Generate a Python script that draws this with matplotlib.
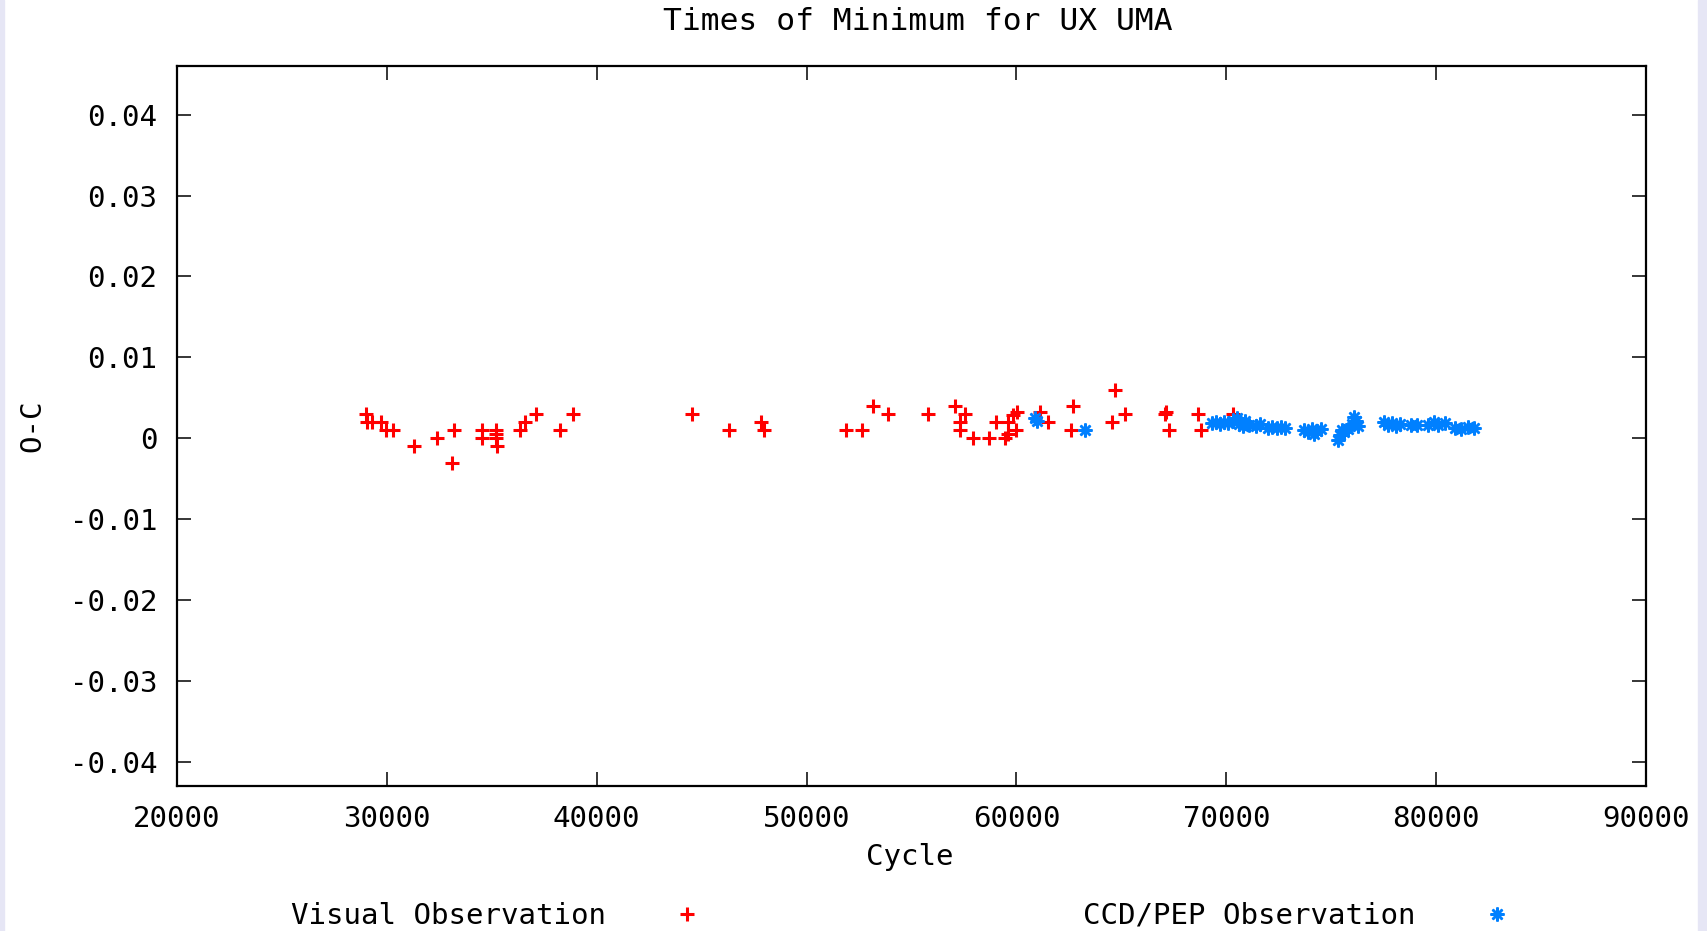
import matplotlib
matplotlib.use("Agg")
import matplotlib.pyplot as plt
from matplotlib.patches import Rectangle

# 目视观测 (Visual) 极小时刻 O-C
visual_cycle = [29000, 29050, 29300, 29700, 29950, 30300,
                31300, 32400, 33100, 33200,
                34550, 34550, 35200, 35200, 35250, 35200,
                36350, 36600, 37100, 38250, 38850,
                44550, 46300, 47850, 47950,
                51900, 52650, 53150, 53900, 55800,
                57050, 57550, 57300, 57300, 57950, 58700,
                59050, 59450, 59600, 59600, 60000, 60050, 59850,
                61100, 61500, 62700, 62600, 64700, 64550, 65150,
                67100, 67150, 67250, 68650, 68800, 70300]
visual_oc = [0.003, 0.002, 0.002, 0.002, 0.001, 0.001,
             -0.001, 0.0, -0.003, 0.001,
             0.001, 0.0, 0.001, 0.0, -0.001, 0.0005,
             0.001, 0.002, 0.003, 0.001, 0.003,
             0.003, 0.001, 0.002, 0.001,
             0.001, 0.001, 0.004, 0.003, 0.003,
             0.004, 0.003, 0.002, 0.001, 0.0, 0.0,
             0.002, 0.0, 0.0006, 0.002, 0.001, 0.0033, 0.0029,
             0.0033, 0.002, 0.004, 0.001, 0.006, 0.002, 0.003,
             0.003, 0.0033, 0.001, 0.003, 0.001, 0.003]

# CCD/PEP 观测
ccd_cycle = [60900, 61000, 63250,
             69300, 69500, 69700, 69900, 70100,
             70300, 70500, 70600, 70800, 70900,
             71100, 71400, 71600,
             72000, 72200, 72400, 72600, 72800,
             73700, 73900, 74100, 74300, 74500, 74200,
             75300, 75400, 75500, 75600, 75800, 76000, 76100, 76200, 76300,
             77500, 77700, 77900, 78100, 78300,
             78800, 79100,
             79600, 79900, 80100, 80400,
             80900, 81200, 81500, 81800]
ccd_oc = [0.0025, 0.0021, 0.001,
          0.0019, 0.0020, 0.0018, 0.0020, 0.0019,
          0.0022, 0.0025, 0.0018, 0.0015, 0.0021,
          0.0017, 0.0015, 0.0018,
          0.0013, 0.0014, 0.0013, 0.0014, 0.0013,
          0.0010, 0.0008, 0.0012, 0.0009, 0.0011, 0.0005,
          -0.0002, 0.0004, 0.0010, 0.0008, 0.0012, 0.0018, 0.0026, 0.0022, 0.0015,
          0.0020, 0.0016, 0.0019, 0.0015, 0.0018,
          0.0016, 0.0017,
          0.0017, 0.0020, 0.0017, 0.0019,
          0.0013, 0.0011, 0.0014, 0.0013]

xticks = [20000, 30000, 40000, 50000, 60000, 70000, 80000, 90000]
yticks = [-0.04, -0.03, -0.02, -0.01, 0, 0.01, 0.02, 0.03, 0.04]
ytick_labels = ["-0.04", "-0.03", "-0.02", "-0.01", "0",
                "0.01", "0.02", "0.03", "0.04"]

plt.rcParams['font.family'] = ['DejaVu Sans Mono']
plt.rcParams['axes.unicode_minus'] = False
FS = 21

fig = plt.figure(figsize=(17.08, 9.31), dpi=100)
# 两侧淡紫色边
fig.patches.append(Rectangle((0, 0), 4 / 1708, 1, transform=fig.transFigure,
                             color='#e6e6f5', zorder=0))
fig.patches.append(Rectangle((1698 / 1708, 0), 10 / 1708, 1, transform=fig.transFigure,
                             color='#e6e6f5', zorder=0))

ax = fig.add_axes([177 / 1708, 1 - 785.7 / 931, 1469 / 1708, 719.7 / 931])

ax.plot(visual_cycle, visual_oc, linestyle='none', marker='+', color='#ff0000',
        markersize=9.5, markeredgewidth=2.2, label='Visual Observation')
ax.plot(ccd_cycle, ccd_oc, linestyle='none', marker=(8, 2, 0), color='#0080ff',
        markersize=10, markeredgewidth=1.8, label='CCD/PEP Observation')

ax.set_xlim(20000, 90000)
ax.set_ylim(-0.0429, 0.046)
ax.set_xticks(xticks)
ax.set_xticklabels([str(t) for t in xticks])
ax.set_yticks(yticks)
ax.set_yticklabels(ytick_labels)
ax.tick_params(direction='in', length=10, width=1.1, top=True, right=True,
               labelsize=FS, pad=14, color='black')
for sp in ax.spines.values():
    sp.set_linewidth(1.6)

ax.set_xlabel('Cycle', fontsize=FS, va='center')
ax.xaxis.set_label_coords(0.499, -(857 - 785.7) / 719.7)
ax.set_ylabel('O-C', fontsize=FS, va='center')
ax.yaxis.set_label_coords((32 - 177) / 1469, 0.5)

fig.text(918 / 1708, 1 - 21 / 931, 'Times of Minimum for UX UMA',
         fontsize=22.5, ha='center', va='center')

fig.legend(loc='center', bbox_to_anchor=(901 / 1708, 15 / 931), ncol=2,
           markerfirst=False, frameon=False, fontsize=FS, handlelength=1.0,
           handletextpad=2.28, columnspacing=13.1, borderpad=0)

plt.savefig('out.png', dpi=100)
